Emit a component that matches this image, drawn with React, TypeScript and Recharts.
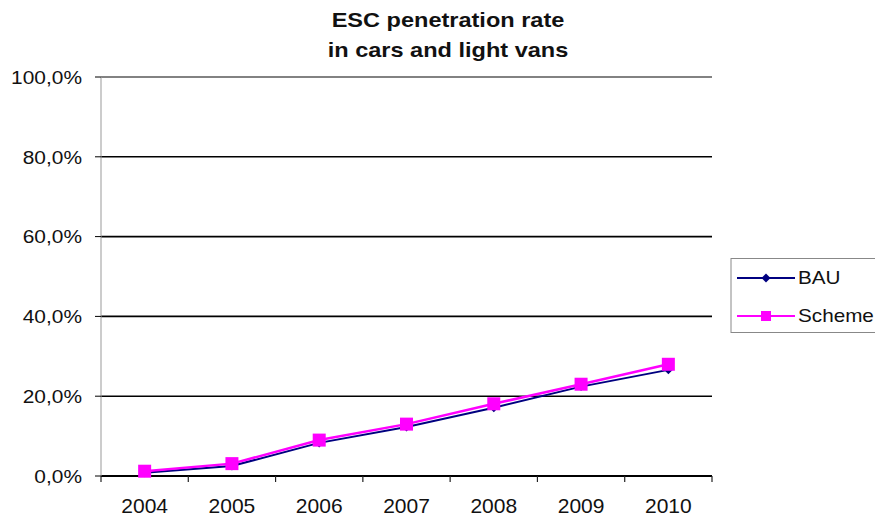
import React from 'react';
import { LineChart, Line, XAxis, YAxis, CartesianGrid, ReferenceLine, Legend } from 'recharts';

const years = [2004, 2005, 2006, 2007, 2008, 2009, 2010];
const bauValues = [0.8, 2.5, 8.3, 12.3, 17.1, 22.4, 26.6];
const schemeValues = [1.2, 3.1, 9.0, 13.0, 18.1, 23.0, 28.0];
const yTicks = [0, 20, 40, 60, 80, 100];
const titleLines = ['ESC penetration rate', 'in cars and light vans'];

const data = years.map((year, i) => ({ year, BAU: bauValues[i], Scheme: schemeValues[i] }));
// integer ticks carry the labels, half ticks are the category boundaries
const xTicks = [years[0] - 0.5, ...years.flatMap((y) => [y, y + 0.5])];

const FONT = '"Liberation Sans", Arial, sans-serif';

const fmtPct = (v: number) => v.toFixed(1).replace('.', ',') + '%';

const YTick = ({ x, y, payload }: any) => (
    <text
        transform={`translate(${x},${y}) scale(1.1,1)`}
        textAnchor="end"
        dy="0.36em"
        fontSize={19}
        fontFamily={FONT}
        fill="#111"
    >
        {fmtPct(payload.value)}
    </text>
);

const XTick = ({ x, y, payload }: any) => {
    const v = payload.value;
    if (!Number.isInteger(v)) {
        return <line x1={x} x2={x} y1={y} y2={y + 6} stroke="#222" strokeWidth={1.2} />;
    }
    return (
        <text x={x} y={y + 37} textAnchor="middle" fontSize={21} fontFamily={FONT} fill="#111">
            {v}
        </text>
    );
};

const Diamond = ({ cx, cy }: any) => {
    if (cx == null || cy == null) return null;
    const r = 4.5;
    return <path d={`M${cx},${cy - r}L${cx + r},${cy}L${cx},${cy + r}L${cx - r},${cy}Z`} fill="#000080" />;
};

const Square = ({ cx, cy }: any) => {
    if (cx == null || cy == null) return null;
    const s = 6.5;
    return <rect x={cx - s} y={cy - s} width={s * 2} height={s * 2} fill="#FF00FF" />;
};

const LegendBox = () => (
    <svg width={145} height={76} style={{ display: 'block' }}>
        <line x1={1} x2={1} y1={0} y2={75} stroke="#888" />
        <line x1={1} x2={145} y1={0.5} y2={0.5} stroke="#888" />
        <line x1={1} x2={145} y1={74.5} y2={74.5} stroke="#888" />
        <line x1={7} x2={65} y1={20} y2={20} stroke="#000080" strokeWidth={2} />
        <Diamond cx={36} cy={20} />
        <text transform={`translate(68,26) scale(1.15,1)`} fontSize={18} fontFamily={FONT} fill="#111">
            BAU
        </text>
        <line x1={7} x2={65} y1={58} y2={58} stroke="#FF00FF" strokeWidth={2} />
        <rect x={31} y={53} width={10} height={10} fill="#FF00FF" />
        <text transform={`translate(68,64) scale(1.15,1)`} fontSize={18} fontFamily={FONT} fill="#111">
            Scheme
        </text>
    </svg>
);

export default function App() {
    return (
        <div style={{ position: 'absolute', left: 0, top: 0, width: 875, height: 517, background: '#fff', overflow: 'hidden' }}>
            <div
                style={{
                    position: 'absolute',
                    left: 0,
                    top: 5,
                    width: 896,
                    textAlign: 'center',
                    fontFamily: FONT,
                    fontWeight: 'bold',
                    fontSize: 21,
                    lineHeight: '30px',
                    color: '#111',
                }}
            >
                {titleLines.map((t) => (
                    <div key={t} style={{ transform: 'scaleX(1.12)' }}>
                        {t}
                    </div>
                ))}
            </div>
            <LineChart width={875} height={517} data={data} margin={{ top: 77, right: 163, bottom: 0, left: 0 }}>
                <CartesianGrid vertical={false} stroke="#000" strokeWidth={1.6} />
                <XAxis
                    dataKey="year"
                    type="number"
                    domain={[years[0] - 0.5, years[years.length - 1] + 0.5]}
                    ticks={xTicks}
                    interval={0}
                    height={41}
                    tickLine={false}
                    tickSize={0}
                    tickMargin={0}
                    tick={<XTick />}
                    axisLine={{ stroke: '#000', strokeWidth: 2 }}
                />
                <YAxis
                    domain={[0, 100]}
                    ticks={yTicks}
                    width={101}
                    tickSize={6}
                    tickMargin={13}
                    tickLine={{ stroke: '#000' }}
                    axisLine={{ stroke: '#999' }}
                    tick={<YTick />}
                />
                <YAxis yAxisId="right" orientation="right" width={0} tick={false} tickLine={false} axisLine={{ stroke: '#999' }} />
                <ReferenceLine y={100} stroke="#999" strokeWidth={1.6} />
                <Legend
                    layout="horizontal"
                    align="center"
                    verticalAlign="middle"
                    content={<LegendBox />}
                    wrapperStyle={{ left: 730, top: 258, width: 145 }}
                />
                <Line
                    dataKey="BAU"
                    stroke="#000080"
                    strokeWidth={2}
                    dot={<Diamond />}
                    activeDot={false}
                    isAnimationActive={false}
                />
                <Line
                    dataKey="Scheme"
                    stroke="#FF00FF"
                    strokeWidth={2.5}
                    dot={<Square />}
                    activeDot={false}
                    isAnimationActive={false}
                />
            </LineChart>
        </div>
    );
}
